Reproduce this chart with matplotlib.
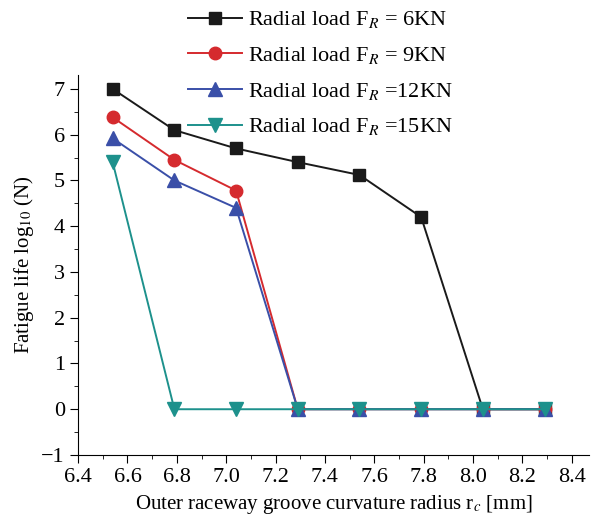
import matplotlib
matplotlib.use('Agg')
import matplotlib.pyplot as plt
import numpy as np
from matplotlib.ticker import MultipleLocator

plt.rcParams['font.family'] = ['Liberation Serif', 'DejaVu Serif']
plt.rcParams['mathtext.fontset'] = 'stix'

# Data
radius = [6.54, 6.79, 7.04, 7.29, 7.54, 7.79, 8.04, 8.29]
life_6kn = [7.0, 6.1, 5.7, 5.4, 5.12, 4.2, 0, 0]
life_9kn = [6.38, 5.45, 4.78, 0, 0, 0, 0, 0]
life_12kn = [5.92, 5.0, 4.4, 0, 0, 0, 0, 0]
life_15kn = [5.4, 0, 0, 0, 0, 0, 0, 0]

fig = plt.figure(figsize=(6.01, 5.26), dpi=100)
ax = fig.add_axes([0.13, 0.135, 0.85, 0.722])

ax.plot(radius, life_6kn, color='#1a1a1a', marker='s', ms=9, lw=1.4,
        label=r'Radial load F$_{\mathit{R}}$ = 6KN')
ax.plot(radius, life_9kn, color='#d52a2e', marker='o', ms=9, lw=1.4,
        label=r'Radial load F$_{\mathit{R}}$ = 9KN')
ax.plot(radius, life_12kn, color='#3a4fa8', marker='^', ms=10, lw=1.4,
        label=r'Radial load F$_{\mathit{R}}$ =12KN')
ax.plot(radius, life_15kn, color='#1d918c', marker='v', ms=10, lw=1.4,
        label=r'Radial load F$_{\mathit{R}}$ =15KN')

ax.set_xlim(6.4, 8.47)
ax.set_ylim(-1, 7.3)
ax.xaxis.set_minor_locator(MultipleLocator(0.1))
ax.yaxis.set_minor_locator(MultipleLocator(0.5))
ax.set_xticks(np.arange(6.4, 8.41, 0.2))
ax.set_xticklabels([f'{v:.1f}' for v in np.arange(6.4, 8.41, 0.2)])
ax.set_yticks(range(-1, 8))
ax.set_yticklabels(['\u22121'] + [str(v) for v in range(0, 8)])

for s in ['top', 'right']:
    ax.spines[s].set_visible(False)
ax.tick_params(which='major', direction='out', length=6, labelsize=16)
ax.tick_params(which='minor', direction='out', length=3)

ax.set_xlabel(r'Outer raceway groove curvature radius r$_{\mathit{c}}$ [mm]', fontsize=15)
ax.set_ylabel(r'Fatigue life log$_{10}$ (N)', fontsize=15)

fig.legend(loc='upper left', bbox_to_anchor=(0.28, 1.02), frameon=False,
           fontsize=16, handlelength=2.4, handletextpad=0.3, labelspacing=0.66)

fig.savefig('out.png', dpi=100)
